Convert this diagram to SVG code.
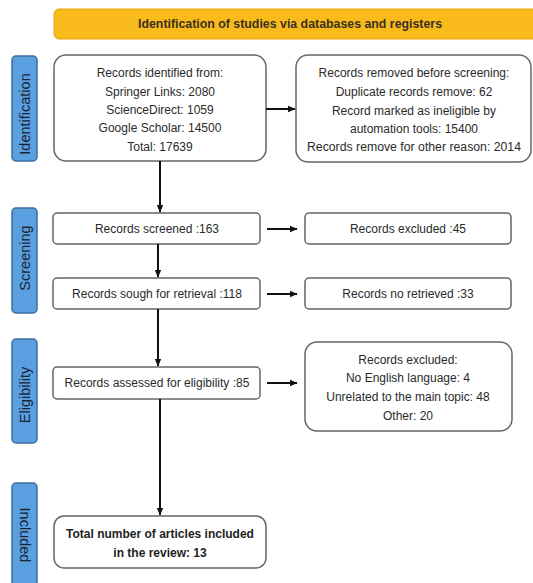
<svg xmlns="http://www.w3.org/2000/svg" width="533" height="583" viewBox="0 0 533 583">
<defs>
<marker id="ah" markerWidth="8" markerHeight="8" refX="7" refY="4" orient="auto" markerUnits="userSpaceOnUse">
<path d="M0,0.8 L7.5,4 L0,7.2 Z" fill="#111"/>
</marker>
<style>
.box{fill:#fff;stroke:#666;stroke-width:1.5}
.side{fill:#5a9fe0;stroke:#3d6e9e;stroke-width:1.5}
.t{font-family:"Liberation Sans",Arial,sans-serif;font-size:12px;fill:#2a2a2a;text-anchor:middle;dominant-baseline:central}
.b{font-weight:bold;fill:#1e1e1e}
.st{font-family:"Liberation Sans",Arial,sans-serif;font-size:14.5px;fill:#1a2535;text-anchor:middle;dominant-baseline:central}
.c{stroke:#111;stroke-width:2;fill:none;marker-end:url(#ah)}
</style>
</defs>
<rect width="533" height="583" fill="#fff"/>
<g id="banner">
<rect x="54" y="9" width="490" height="30" rx="5" fill="#f9bb1c" stroke="#e3a513" stroke-width="1"/>
<text class="t" x="290" y="24" style="font-size:12px;fill:#3a3020;font-weight:bold" textLength="304" lengthAdjust="spacingAndGlyphs">Identification of studies via databases and registers</text>
</g>
<g id="side-identification">
<rect class="side" x="12" y="56" width="25" height="105" rx="4"/>
<text class="st" transform="translate(24.5,114) rotate(-90)">Identification</text>
</g>
<g id="side-screening">
<rect class="side" x="12" y="208" width="25" height="105" rx="4"/>
<text class="st" transform="translate(24.5,258) rotate(-90)">Screening</text>
</g>
<g id="side-eligibility">
<rect class="side" x="12" y="339" width="25" height="104" rx="4"/>
<text class="st" transform="translate(24.5,395) rotate(-90)">Eligibility</text>
</g>
<g id="side-included">
<rect class="side" x="12" y="483" width="25" height="110" rx="4"/>
<text class="st" transform="translate(24.5,535) rotate(90)">Included</text>
</g>
<g id="identified">
<rect class="box" x="54" y="55" width="212" height="106" rx="12"/>
<text class="t" x="160" y="73">Records identified from:</text>
<text class="t" x="160" y="92">Springer Links: 2080</text>
<text class="t" x="160" y="110">ScienceDirect: 1059</text>
<text class="t" x="160" y="128">Google Scholar: 14500</text>
<text class="t" x="160" y="147">Total: 17639</text>
</g>
<g id="removed">
<rect class="box" x="296" y="55" width="235" height="107" rx="12"/>
<text class="t" x="414" y="73">Records removed before screening:</text>
<text class="t" x="414" y="92">Duplicate records remove: 62</text>
<text class="t" x="414" y="111">Record marked as ineligible by</text>
<text class="t" x="414" y="129">automation tools: 15400</text>
<text class="t" x="414" y="147" textLength="214" lengthAdjust="spacingAndGlyphs">Records remove for other reason: 2014</text>
</g>
<g id="screened">
<rect class="box" x="53" y="213" width="207" height="31" rx="4"/>
<text class="t" x="157" y="229">Records screened :163</text>
</g>
<g id="excluded1">
<rect class="box" x="305" y="213" width="206" height="31" rx="4"/>
<text class="t" x="408" y="229">Records excluded :45</text>
</g>
<g id="sought">
<rect class="box" x="53" y="278" width="207" height="31" rx="4"/>
<text class="t" x="157" y="294">Records sough for retrieval :118</text>
</g>
<g id="notretrieved">
<rect class="box" x="305" y="278" width="206" height="31" rx="4"/>
<text class="t" x="408" y="294">Records no retrieved :33</text>
</g>
<g id="assessed">
<rect class="box" x="53" y="367" width="207" height="32" rx="4"/>
<text class="t" x="157" y="383">Records assessed for eligibility :85</text>
</g>
<g id="excluded2">
<rect class="box" x="305" y="342" width="207" height="89" rx="12"/>
<text class="t" x="408" y="360">Records excluded:</text>
<text class="t" x="408" y="378">No English language: 4</text>
<text class="t" x="408" y="397">Unrelated to the main topic: 48</text>
<text class="t" x="408" y="416">Other: 20</text>
</g>
<g id="included">
<rect class="box" x="54" y="516" width="212" height="52" rx="10"/>
<text class="t b" x="160" y="534">Total number of articles included</text>
<text class="t b" x="160" y="553">in the review: 13</text>
</g>
<g id="connectors">
<path class="c" d="M266,109 H295"/>
<path class="c" d="M160,161 V212"/>
<path class="c" d="M267,229 H297"/>
<path class="c" d="M158,244 V277"/>
<path class="c" d="M267,294 H297"/>
<path class="c" d="M158,309 V366"/>
<path class="c" d="M267,383 H297"/>
<path class="c" d="M160,399 V515"/>
</g>
</svg>
